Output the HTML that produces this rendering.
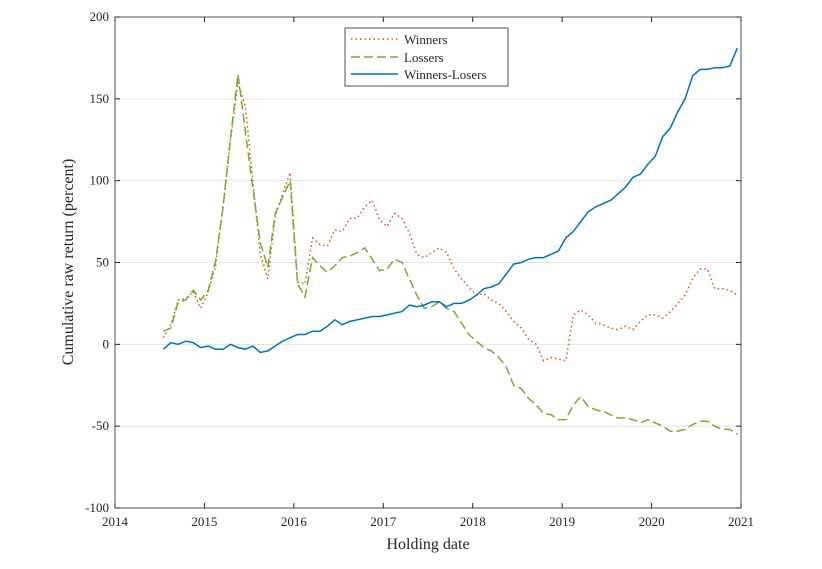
<!DOCTYPE html>
<html><head><meta charset="utf-8"><style>
body{margin:0;background:#fff}
svg text{font-family:"Liberation Serif",serif;fill:#262626}
</style></head><body>
<svg id="chart" width="822" height="564" xmlns="http://www.w3.org/2000/svg">
<g id="grid"></g>
<g id="series"></g>
<g id="axes"></g>
<text x="428" y="549" font-size="16" text-anchor="middle">Holding date</text>
<text transform="translate(73,262) rotate(-90)" font-size="16" text-anchor="middle">Cumulative raw return (percent)</text>
<g>
<rect x="345" y="28" width="163" height="58" fill="#fff" stroke="#262626" stroke-width="0.8"/>
<line x1="351" y1="39" x2="398" y2="39" stroke="#D95319" stroke-width="1.5" stroke-dasharray="1.5,3"/>
<text x="404" y="44" font-size="13">Winners</text>
<line x1="351" y1="57" x2="398" y2="57" stroke="#77AC30" stroke-width="1.5" stroke-dasharray="9,4"/>
<text x="404" y="62" font-size="13">Lossers</text>
<line x1="351" y1="74" x2="398" y2="74" stroke="#0072BD" stroke-width="1.5"/>
<text x="404" y="79" font-size="13">Winners-Losers</text>
</g>
</svg>
<script>
const startYear = 2014.5;
const xTicks = [2014,2015,2016,2017,2018,2019,2020,2021];
const yTicks = [-100,-50,0,50,100,150,200];
const winners = [4,12,27,28,32,22, 32,48,85,125,160,145,100,55,40,78,92,105, 38,37,65,61,60,70,69,77,77,84,88,76, 72,80,77,68,55,53,56,59,56,46,40,35, 30,31,27,25,20,14,10,3,0,-10,-8,-9, -10,18,21,18,13,12,10,9,11,9,14,18, 18,16,20,25,30,40,46,46,34,34,33,30];
const losers = [8,10,26,27,33,27, 33,51,84,126,165,130,95,62,47,80,90,100, 37,29,53,48,44,48,53,54,56,59,52,45, 46,52,50,40,30,22,23,26,22,20,13,6, 2,-2,-4,-8,-14,-25,-27,-33,-37,-42,-43,-46, -46,-37,-32,-38,-40,-41,-43,-45,-45,-46,-48,-46, -48,-50,-53,-53,-52,-49,-47,-47,-50,-52,-52,-55];
const spread = [-3,1,0,2,1,-2, -1,-3,-3,0,-2,-3,-1,-5,-4,-1,2,4, 6,6,8,8,11,15,12,14,15,16,17,17, 18,19,20,24,23,24,26,26,23,25,25,27, 30,34,35,37,43,49,50,52,53,53,55,57, 65,69,75,81,84,86,88,92,96,102,104,110, 115,127,132,142,150,164,168,168,169,169,170,181];
const L=115,R=741,T=17,B=508;
const xs=v=>L+(v-2014)/7*(R-L);
const ys=v=>B-(v+100)/300*(B-T);
const NS="http://www.w3.org/2000/svg";
function mk(t,a,p){const e=document.createElementNS(NS,t);for(const k in a)e.setAttribute(k,a[k]);p.appendChild(e);return e;}
const grid=document.getElementById('grid'),axes=document.getElementById('axes'),ser=document.getElementById('series');
yTicks.forEach(v=>{
  if(v>-100&&v<200){const g=mk('line',{x1:L,x2:R,y1:ys(v),y2:ys(v),stroke:'#e3e3e3','stroke-width':1},grid);
  
  }
  mk('line',{x1:L,x2:L+5,y1:ys(v),y2:ys(v),stroke:'#262626'},axes);
  mk('line',{x1:R,x2:R-5,y1:ys(v),y2:ys(v),stroke:'#262626'},axes);
  const t=mk('text',{x:L-6,y:ys(v)+4,'font-size':13,'text-anchor':'end'},axes);t.textContent=v;
  
  
});
xTicks.forEach(v=>{
  mk('line',{x1:xs(v),x2:xs(v),y1:B,y2:B-5,stroke:'#262626'},axes);
  mk('line',{x1:xs(v),x2:xs(v),y1:T,y2:T+5,stroke:'#262626'},axes);
  const t=mk('text',{x:xs(v),y:B+18,'font-size':13,'text-anchor':'middle'},axes);t.textContent=v;
  
  
});
mk('rect',{x:L,y:T,width:R-L,height:B-T,fill:'none',stroke:'#262626','stroke-width':0.8},axes);
function line(arr,color,dash,name){
  const pts=arr.map((v,i)=>xs(startYear+(i+0.5)/12).toFixed(1)+','+ys(v).toFixed(1)).join(' ');
  const p=mk('polyline',{points:pts,fill:'none',stroke:color,'stroke-width':1.5,'stroke-dasharray':dash},ser);
  
  
}
line(winners,'#D95319','1.5,3','winners-line');
line(losers,'#77AC30','9,4','losers-line');
line(spread,'#0072BD','none','winners-losers-line');
</script>
</body></html>
